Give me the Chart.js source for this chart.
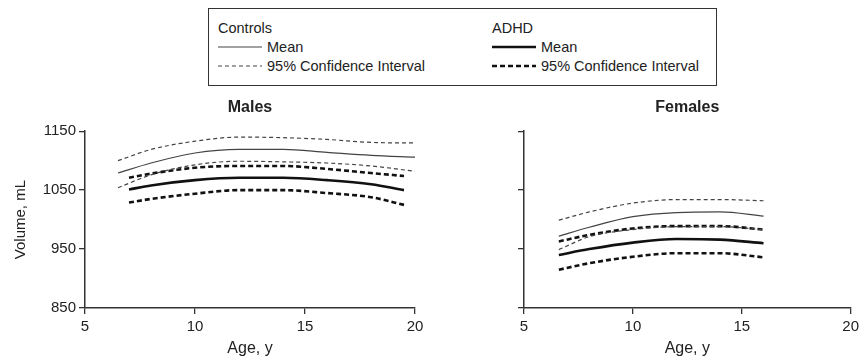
<!DOCTYPE html>
<html>
<head>
<meta charset="utf-8">
<script src="https://cdn.jsdelivr.net/npm/chart.js@4"></script>
<style>
  body { margin: 0; background: #fff; font-family: 'Liberation Sans', Arial, sans-serif; color: #222; }
  #wrap { position: relative; width: 863px; height: 362px; overflow: hidden; }
  .panel { position: absolute; top: 90px; height: 272px; }
  #leyenda { position: absolute; left: 208px; top: 8px; width: 509px; height: 78px; border: 1px solid #333; box-sizing: border-box; font-size: 14.5px; }
  .fila { position: absolute; display: flex; align-items: center; height: 18px; white-space: nowrap; }
  .fila svg { margin-right: 5px; }
</style>
</head>
<body>
<div id="wrap">
  <div id="leyenda">
    <div class="fila" style="left:9px; top:10px;">Controls</div>
    <div class="fila" style="left:9px; top:29px;">
      <svg width="44" height="6"><line x1="0" y1="3" x2="44" y2="3" stroke="#444" stroke-width="1.2"/></svg>Mean
    </div>
    <div class="fila" style="left:9px; top:48px;">
      <svg width="44" height="6"><line x1="0" y1="3" x2="44" y2="3" stroke="#444" stroke-width="1.2" stroke-dasharray="4 3"/></svg>95% Confidence Interval
    </div>
    <div class="fila" style="left:283px; top:10px;">ADHD</div>
    <div class="fila" style="left:283px; top:29px;">
      <svg width="44" height="6"><line x1="0" y1="3" x2="44" y2="3" stroke="#111" stroke-width="2.4"/></svg>Mean
    </div>
    <div class="fila" style="left:283px; top:48px;">
      <svg width="44" height="6"><line x1="0" y1="3" x2="44" y2="3" stroke="#111" stroke-width="2.4" stroke-dasharray="5 3"/></svg>95% Confidence Interval
    </div>
  </div>
  <div class="panel" style="left:0; width:430px;"><canvas id="graficaHombres" width="430" height="272"></canvas></div>
  <div class="panel" style="left:430px; width:433px;"><canvas id="graficaMujeres" width="433" height="272"></canvas></div>
</div>
<script>
// Datos (volumen en mL por edad)
const edadTicks = [5, 10, 15, 20];
const volumenTicks = [850, 950, 1050, 1150];

// Hombres - controles
const hCtrlEdad = [6.5, 8, 10, 12, 14, 16, 18, 20];
const hCtrlMedia = [1079, 1096, 1113, 1119, 1119, 1114, 1109, 1106];
const hCtrlSup = [1100, 1119, 1133, 1140, 1139, 1136, 1131, 1130];
const hCtrlInf = [1054, 1076, 1093, 1099, 1098, 1096, 1091, 1082];

// Hombres - TDAH
const hTdahEdad = [7, 8, 10, 12, 14, 16, 18, 19.5];
const hTdahMedia = [1051, 1058, 1067, 1071, 1071, 1067, 1060, 1050];
const hTdahSup = [1071, 1078, 1088, 1091, 1091, 1086, 1079, 1074];
const hTdahInf = [1029, 1035, 1044, 1050, 1050, 1045, 1038, 1025];

// Mujeres - controles y TDAH
const mEdad = [6.6, 8, 10, 12, 14, 16];
const mCtrlMedia = [972, 987, 1005, 1012, 1013, 1006];
const mCtrlSup = [999, 1013, 1028, 1034, 1034, 1032];
const mCtrlInf = [949, 971, 983, 988, 988, 983];
const mTdahMedia = [940, 950, 961, 967, 966, 960];
const mTdahSup = [963, 974, 985, 989, 989, 983];
const mTdahInf = [915, 926, 937, 943, 943, 936];

Chart.defaults.font.family = "'Liberation Sans', Arial, sans-serif";
Chart.defaults.color = '#222';

const puntos = (edades, valores) => edades.map((e, i) => ({ x: e, y: valores[i] }));

function serie(edades, valores, tipo) {
  const estilos = {
    ctrlMedia: { borderColor: '#444', borderWidth: 1.2, borderDash: [] },
    ctrlIC: { borderColor: '#444', borderWidth: 1.2, borderDash: [4, 3] },
    tdahMedia: { borderColor: '#111', borderWidth: 2.6, borderDash: [] },
    tdahIC: { borderColor: '#111', borderWidth: 2.6, borderDash: [5, 3] }
  };
  return Object.assign({
    data: puntos(edades, valores),
    pointRadius: 0,
    fill: false,
    cubicInterpolationMode: 'monotone'
  }, estilos[tipo]);
}

function crearPanel(id, titulo, datasets, opts) {
  const ejeColor = '#333';
  new Chart(document.getElementById(id), {
    type: 'line',
    data: { datasets: datasets },
    options: {
      responsive: false,
      animation: false,
      layout: { padding: { left: opts.padIzq, right: opts.padDer, top: 0, bottom: 0 } },
      plugins: {
        legend: { display: false },
        tooltip: { enabled: false },
        title: {
          display: true,
          text: titulo,
          fullSize: false,
          font: { size: 16, weight: 'bold' },
          color: '#222',
          padding: { top: 8, bottom: 14 }
        }
      },
      scales: {
        x: {
          type: 'linear',
          min: 5, max: 20,
          afterBuildTicks: s => { s.ticks = edadTicks.map(v => ({ value: v })); },
          ticks: { font: { size: 15 }, padding: 4, color: '#222' },
          grid: { drawOnChartArea: false, drawTicks: true, tickLength: 6, color: ejeColor, lineWidth: 1.3 },
          border: { display: true, color: ejeColor, width: 1.5 },
          title: { display: true, text: 'Age, y', font: { size: 16 }, color: '#222', padding: { top: 2, bottom: 4 } },
          afterFit: s => { s.height = 54; }
        },
        y: {
          min: 850, max: 1150,
          afterBuildTicks: s => { s.ticks = volumenTicks.map(v => ({ value: v })); },
          ticks: {
            font: { size: 15 }, padding: 3, color: '#222',
            callback: v => opts.etiquetasY ? v : ''
          },
          grid: { drawOnChartArea: false, drawTicks: true, tickLength: 6, color: ejeColor, lineWidth: 1.3 },
          border: { display: true, color: ejeColor, width: 1.5 },
          title: { display: opts.etiquetasY, text: 'Volume, mL', font: { size: 15 }, color: '#222', padding: { top: 4, bottom: 4 } },
          afterFit: s => { s.width = opts.anchoY; }
        }
      }
    }
  });
}

crearPanel('graficaHombres', 'Males', [
  serie(hCtrlEdad, hCtrlSup, 'ctrlIC'),
  serie(hCtrlEdad, hCtrlMedia, 'ctrlMedia'),
  serie(hCtrlEdad, hCtrlInf, 'ctrlIC'),
  serie(hTdahEdad, hTdahSup, 'tdahIC'),
  serie(hTdahEdad, hTdahMedia, 'tdahMedia'),
  serie(hTdahEdad, hTdahInf, 'tdahIC')
], { padIzq: 8, padDer: 15, anchoY: 77, etiquetasY: true });

crearPanel('graficaMujeres', 'Females', [
  serie(mEdad, mCtrlSup, 'ctrlIC'),
  serie(mEdad, mCtrlMedia, 'ctrlMedia'),
  serie(mEdad, mCtrlInf, 'ctrlIC'),
  serie(mEdad, mTdahSup, 'tdahIC'),
  serie(mEdad, mTdahMedia, 'tdahMedia'),
  serie(mEdad, mTdahInf, 'tdahIC')
], { padIzq: 0, padDer: 8, anchoY: 94, etiquetasY: false });
</script>
</body>
</html>
